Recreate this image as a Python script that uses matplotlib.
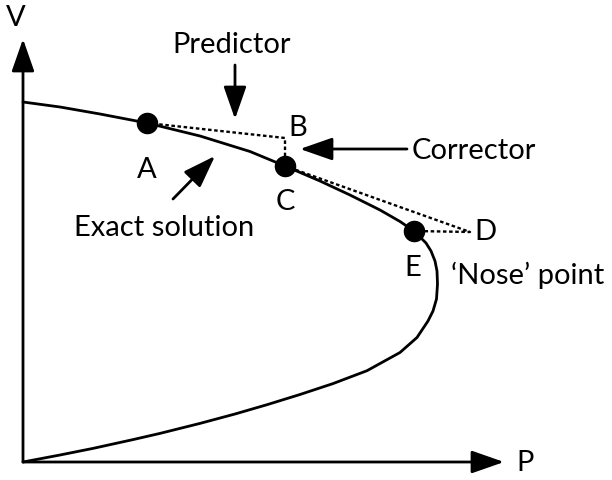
import matplotlib
matplotlib.use("Agg")
import matplotlib.pyplot as plt

# origin of the diagram in pixels: (23, 463); P grows right, V grows up
ORIGIN_X, ORIGIN_Y = 23, 463

# exact solution (nose curve) as (x, y) pixels
curve_x = [23, 60, 100, 147, 200, 250, 285, 320, 350, 380, 400, 414, 420,
           426, 431, 435, 437, 437.5, 436.5, 433, 428, 417, 400, 367, 333,
           300, 267, 235, 200, 160, 133, 93, 60, 23]
curve_y = [103, 108, 115, 124, 137, 152.5, 167, 182, 196, 211, 222.5, 232,
           238, 244, 252, 262, 272, 285, 300, 312, 322, 338.5, 353.5, 371.7,
           384.6, 395.5, 405.7, 415, 424.4, 434.4, 440.6, 449.4, 456, 463]

# solution points A, C, E
pts_name = ["A", "C", "E"]
pts_x = [147, 285, 414]
pts_y = [124, 167, 232]

# predictor / corrector path A -> B -> C -> D -> E
pc_x = [147, 285, 285, 470, 414]
pc_y = [124, 139, 167, 233, 232]


def to_pv(xs, ys):
    return [x - ORIGIN_X for x in xs], [ORIGIN_Y - y for y in ys]


fig = plt.figure(figsize=(6.12, 4.81), dpi=100)
ax = fig.add_axes([0, 0, 1, 1])
ax.set_xlim(-ORIGIN_X, 612 - ORIGIN_X)
ax.set_ylim(ORIGIN_Y - 481, ORIGIN_Y)
ax.axis("off")

plt.rcParams["font.family"] = ["Lato", "DejaVu Sans"]
fs = 21

P, V = to_pv(curve_x, curve_y)
ax.plot(P, V, color="black", lw=2.0, solid_joinstyle="round", solid_capstyle="round")

Pp, Vp = to_pv(pc_x, pc_y)
ax.plot(Pp, Vp, color="black", lw=1.7, linestyle=(0, (1.5, 1.1)))

Pm, Vm = to_pv(pts_x, pts_y)
ax.plot(Pm, Vm, "o", color="black", ms=14.5, zorder=5)

arrow = dict(arrowstyle="-|>,head_length=1.0,head_width=0.35", mutation_scale=20,
             color="black", lw=2.0, shrinkA=0, shrinkB=0)


def arrow_px(x0, y0, x1, y1):
    p, v = to_pv([x0, x1], [y0, y1])
    ax.annotate("", xy=(p[1], v[1]), xytext=(p[0], v[0]), arrowprops=arrow)


# axes
arrow_px(23, 463, 23, 40)
arrow_px(23, 463, 504, 463)
# annotation arrows
arrow_px(235, 66, 235, 120)
arrow_px(407, 150, 300, 150)
arrow_px(173, 200, 215, 157)


def label(x, y, s, ha="center"):
    p, v = to_pv([x], [y])
    ax.text(p[0], v[0], s, fontsize=fs, ha=ha, va="center")


label(16, 18, "V")
label(525, 463, "P")
label(232, 45, "Predictor")
label(412, 151, "Corrector", ha="left")
label(164, 228, "Exact solution")
label(147, 170, "A")
label(298, 128, "B")
label(285, 202, "C")
label(485, 232, "D")
label(413, 268, "E")
label(451, 275, "\u2018Nose\u2019 point", ha="left")

fig.savefig("out.png", dpi=100)
